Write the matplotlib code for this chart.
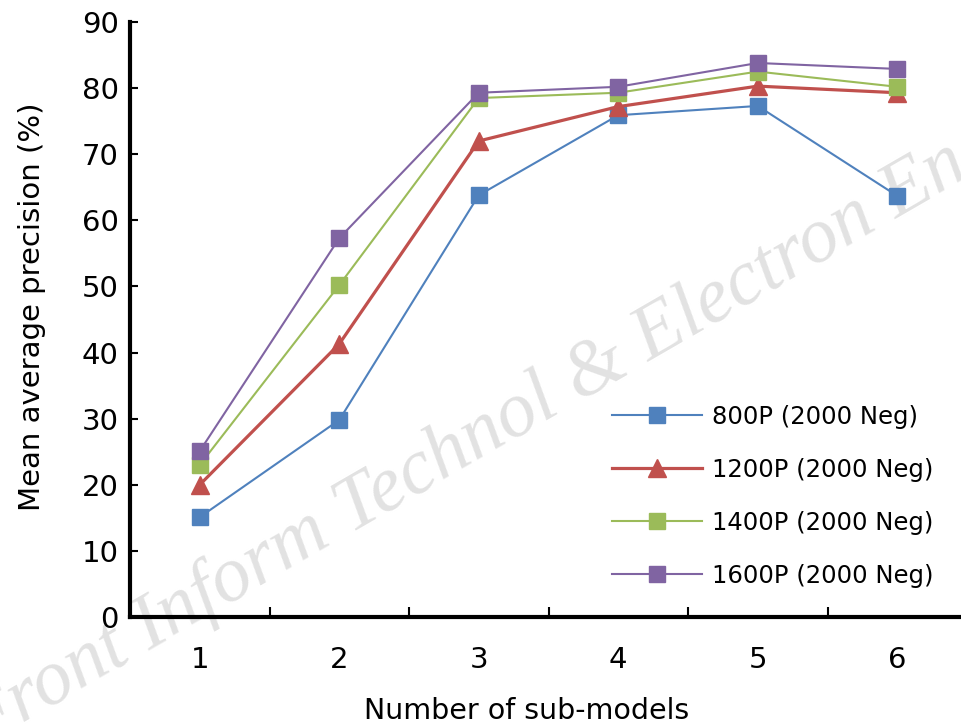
import matplotlib
matplotlib.use("Agg")
import matplotlib.pyplot as plt
import numpy as np

x_vals = [1, 2, 3, 4, 5, 6]
s800 = [15.1, 29.8, 63.8, 75.9, 77.3, 63.7]
s1200 = [20.0, 41.3, 72.0, 77.2, 80.3, 79.3]
s1400 = [23.0, 50.2, 78.5, 79.3, 82.5, 80.2]
s1600 = [25.1, 57.3, 79.3, 80.2, 83.8, 82.9]
labels = ["800P (2000 Neg)", "1200P (2000 Neg)", "1400P (2000 Neg)", "1600P (2000 Neg)"]
colors = ["#4F81BD", "#C0504D", "#9BBB59", "#8064A2"]
markers = ["s", "^", "s", "s"]
widths = [1.5, 2.3, 1.5, 1.5]
yticks = [0, 10, 20, 30, 40, 50, 60, 70, 80, 90]
watermark = "Front Inform Technol & Electron Eng"

plt.rcParams['font.family'] = ['DejaVu Sans']

fig = plt.figure(figsize=(9.61, 7.25), dpi=100)
ax = fig.add_axes([130/961, 108/725, 837/961, 595/725])

# watermark (behind the data): size chosen so "Inform ... & " spans the reference distance
wm_kw = dict(family=['Liberation Serif'], style='italic', color='#e2e2e2',
             rotation_mode='anchor', ha='left', va='baseline', zorder=-1)
fig.canvas.draw()
r = fig.canvas.get_renderer()
def text_w(s, size):
    t = fig.text(0, 0, s, fontsize=size, **wm_kw)
    wd = t.get_window_extent(renderer=r).width
    t.remove()
    return wd
fs = 61 * 625 / text_w("Inform Technol & E", 61)
w = text_w("Front I", fs) - text_w("I", fs)
ang = np.deg2rad(30.0)
ex, ey = 150, 725 - 650
sx, sy = ex - w*np.cos(ang), ey - w*np.sin(ang)
fig.text(sx/961, sy/725, watermark, rotation=30.0, fontsize=fs, **wm_kw)

for ys, lab, c, m, lw in zip([s800, s1200, s1400, s1600], labels, colors, markers, widths):
    ax.plot(x_vals, ys, color=c, lw=lw, marker=m, markersize=12 if m == "s" else 13,
            markeredgecolor=c, markerfacecolor=c, label=lab, clip_on=False, zorder=3)

ax.patch.set_alpha(0)
ax.set_xlim(0.5, 6.5)
ax.set_ylim(0, 90)
ax.set_yticks(yticks)
ax.set_xticks(x_vals)
ax.set_xticks([1.5, 2.5, 3.5, 4.5, 5.5], minor=True)
ax.tick_params(axis='x', which='major', length=0, pad=21, labelsize=21)
ax.tick_params(axis='x', which='minor', length=7, width=1.5, direction='in')
ax.tick_params(axis='y', which='major', length=6, width=1.5, direction='in', pad=8, labelsize=21)
for s in ['top', 'right']:
    ax.spines[s].set_visible(False)
for s in ['left', 'bottom']:
    ax.spines[s].set_linewidth(3)

ax.set_xlabel("Number of sub-models", fontsize=20.5, labelpad=18)
ax.xaxis.set_label_coords(0.474, -0.135)
ax.set_ylabel("Mean average precision (%)", fontsize=21, labelpad=26)
ax.yaxis.label.set_y(0.521)

leg = fig.legend(*ax.get_legend_handles_labels(), loc='upper left',
                 bbox_to_anchor=(612/961, (725-405)/725), frameon=False,
                 fontsize=17.5, handlelength=3.7, labelspacing=1.19, handletextpad=0.4,
                 borderpad=0, borderaxespad=0)

fig.savefig("out.png", dpi=100)
